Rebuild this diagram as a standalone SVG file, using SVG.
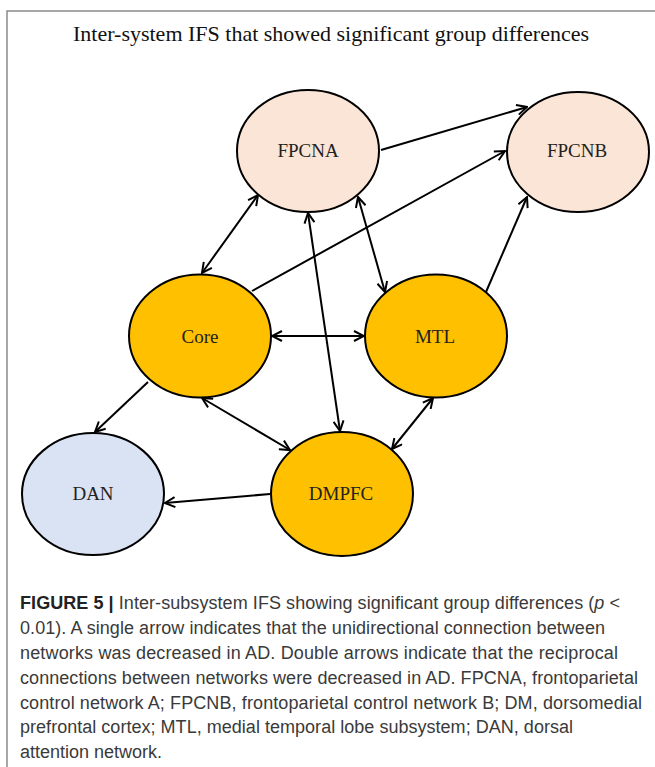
<svg xmlns="http://www.w3.org/2000/svg" width="655" height="767" viewBox="0 0 655 767">
<style>
  .frame { fill: none; stroke: #8a8a8a; stroke-width: 1.5; }
  .title { font-family: "Liberation Serif", "Times New Roman", serif; font-size: 22px; fill: #111; text-anchor: middle; }
  .node ellipse { stroke: #000; stroke-width: 2; }
  .peach { fill: #FBE5D6; }
  .gold { fill: #FFC000; }
  .blue { fill: #DAE3F3; }
  .lbl { font-family: "Liberation Serif", "Times New Roman", serif; font-size: 19px; fill: #222; text-anchor: middle; }
  .edge { stroke: #000; stroke-width: 2; fill: none; }
  .one { marker-end: url(#ah); }
  .two { marker-start: url(#ah); marker-end: url(#ah); }
  .cap { font-family: "Liberation Sans", Arial, sans-serif; font-size: 18px; fill: #3a3a3a; }
  .capb { font-weight: bold; fill: #222; }
</style>
<defs>
  <marker id="ah" viewBox="0 0 12 12" refX="11" refY="6" markerWidth="12" markerHeight="12" markerUnits="userSpaceOnUse" orient="auto-start-reverse">
    <path d="M1,1 L11,6 L1,11" fill="none" stroke="#000" stroke-width="2" stroke-linejoin="miter"/>
  </marker>
</defs>
<rect width="655" height="767" fill="#fff"/>
<path class="frame" d="M7,767 L7,11 L655,11"/>
<text class="title" x="331" y="41">Inter-system IFS that showed significant group differences</text>

<g id="connectors">
  <line class="edge one" x1="381" y1="150" x2="527" y2="107"/>
  <line class="edge one" x1="252" y1="291" x2="505" y2="151"/>
  <line class="edge one" x1="486" y1="292" x2="527" y2="197"/>
  <line class="edge two" x1="202" y1="273" x2="258" y2="195"/>
  <line class="edge two" x1="358" y1="197" x2="385" y2="292"/>
  <line class="edge two" x1="308" y1="213" x2="340" y2="431"/>
  <line class="edge two" x1="272" y1="336" x2="364" y2="336"/>
  <line class="edge one" x1="148" y1="382" x2="95" y2="432"/>
  <line class="edge two" x1="202" y1="398" x2="290" y2="450"/>
  <line class="edge two" x1="433" y1="398" x2="392" y2="449"/>
  <line class="edge one" x1="270" y1="494" x2="165" y2="503"/>
</g>

<g id="FPCNA" class="node">
  <ellipse class="peach" cx="308" cy="151" rx="71" ry="61"/>
  <text class="lbl" x="308" y="157">FPCNA</text>
</g>
<g id="FPCNB" class="node">
  <ellipse class="peach" cx="578" cy="152" rx="71" ry="60"/>
  <text class="lbl" x="577" y="157">FPCNB</text>
</g>
<g id="Core" class="node">
  <ellipse class="gold" cx="200" cy="336" rx="71" ry="61.5"/>
  <text class="lbl" x="200" y="343">Core</text>
</g>
<g id="MTL" class="node">
  <ellipse class="gold" cx="436" cy="336" rx="71" ry="61.5"/>
  <text class="lbl" x="435" y="343">MTL</text>
</g>
<g id="DAN" class="node">
  <ellipse class="blue" cx="93" cy="494" rx="71" ry="61"/>
  <text class="lbl" x="93" y="500">DAN</text>
</g>
<g id="DMPFC" class="node">
  <ellipse class="gold" cx="342" cy="494" rx="71" ry="62"/>
  <text class="lbl" x="341" y="500">DMPFC</text>
</g>

<g id="caption" class="cap">
  <text x="20" y="609" textLength="600" lengthAdjust="spacing"><tspan class="capb">FIGURE 5 |</tspan> Inter-subsystem IFS showing significant group differences (<tspan font-style="italic">p</tspan> &lt;</text>
  <text x="20" y="634" textLength="585" lengthAdjust="spacing">0.01). A single arrow indicates that the unidirectional connection between</text>
  <text x="20" y="659" textLength="598" lengthAdjust="spacing">networks was decreased in AD. Double arrows indicate that the reciprocal</text>
  <text x="20" y="684" textLength="618" lengthAdjust="spacing">connections between networks were decreased in AD. FPCNA, frontoparietal</text>
  <text x="20" y="709" textLength="622" lengthAdjust="spacing">control network A; FPCNB, frontoparietal control network B; DM, dorsomedial</text>
  <text x="20" y="733" textLength="553" lengthAdjust="spacing">prefrontal cortex; MTL, medial temporal lobe subsystem; DAN, dorsal</text>
  <text x="20" y="758">attention network.</text>
</g>
</svg>
